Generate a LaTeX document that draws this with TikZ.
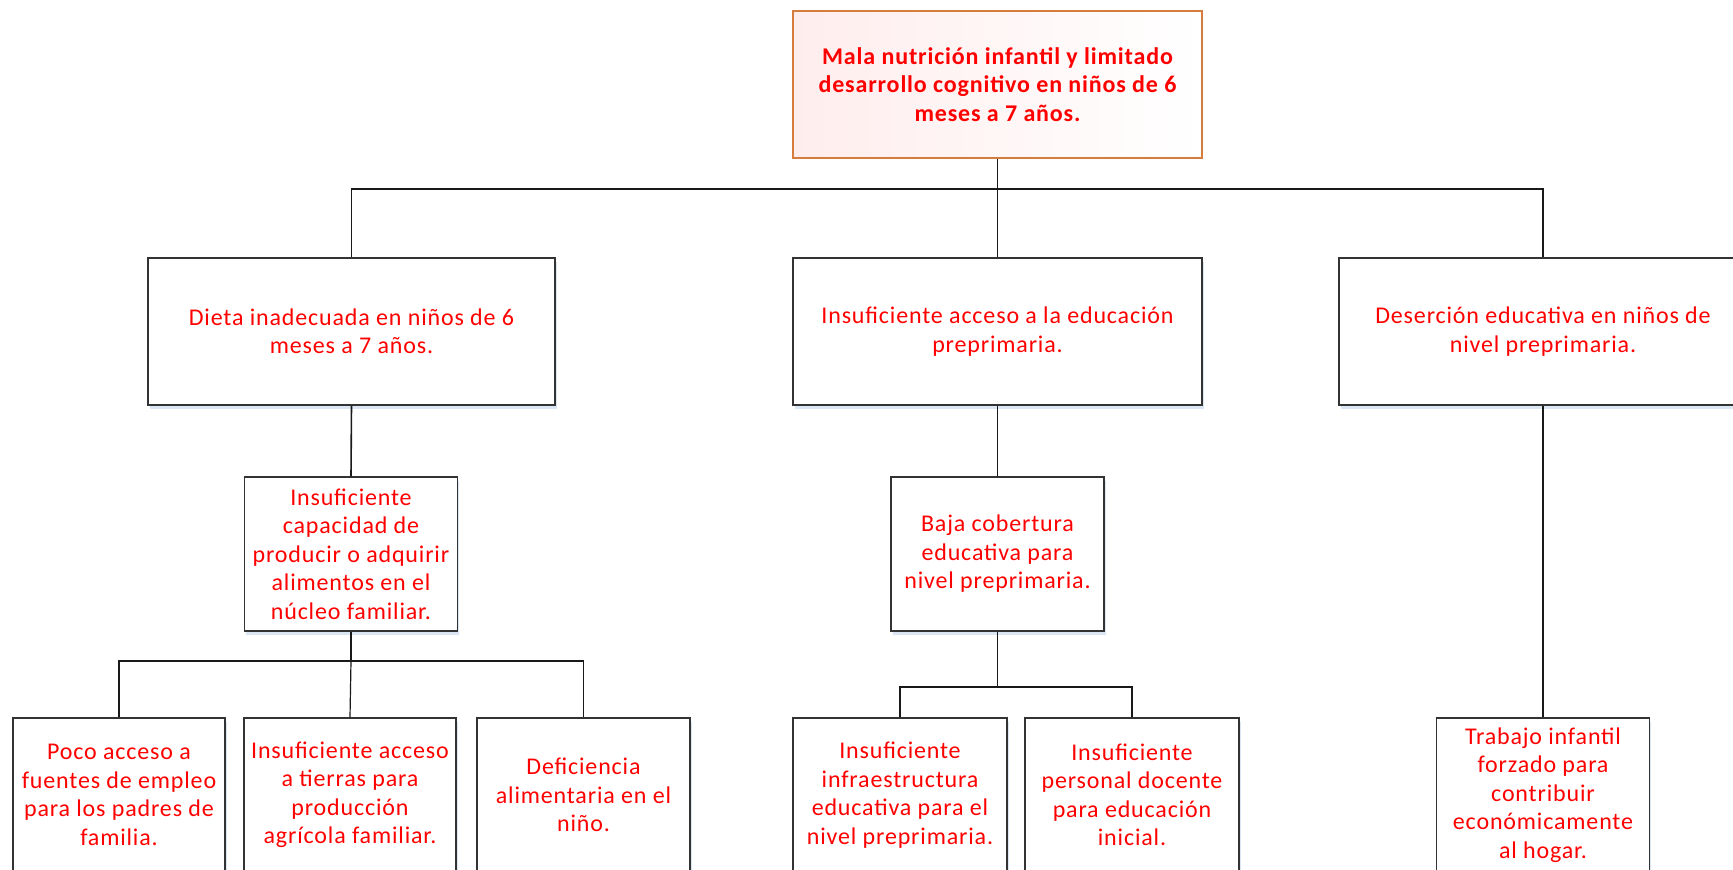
\documentclass[tikz,border=0pt]{standalone}
\usepackage{fontspec}
\setmainfont{Carlito}[LetterSpace=3.5]
\usetikzlibrary{shadows}
\definecolor{txtred}{RGB}{255,0,0}
\definecolor{toporange}{RGB}{214,124,60}
\definecolor{shadowblue}{RGB}{190,210,235}
\begin{document}
\begin{tikzpicture}[x=1pt,y=-1pt,
  box/.style={draw=black!80, line width=1.1pt, fill=white, text=txtred, align=center,
    inner sep=0pt, font=\fontsize{24}{28.5}\selectfont,
    drop shadow={shadow xshift=1.5pt, shadow yshift=-3.5pt, fill=shadowblue, opacity=0.55}},
  topbox/.style={draw=toporange, line width=1.8pt, left color=red!7!white, right color=white,
    text=txtred, align=center, inner sep=0pt, font=\fontsize{24}{28.5}\selectfont\bfseries},
  conn/.style={draw=black!90, line width=1.2pt}]
\useasboundingbox (0,0) rectangle (1733,870);
\clip (0,0) rectangle (1733,870);

% level 1
\node[topbox, minimum width=409pt, minimum height=147pt] (top) at (997.5,84.5)
  {Mala nutrición infantil y limitado\\desarrollo cognitivo en niños de 6\\meses a 7 años.};

% level 2
\node[box, minimum width=407pt, minimum height=147pt] (dieta) at (351.5,331.5)
  {Dieta inadecuada en niños de 6\\meses a 7 años.};
\node[box, minimum width=409pt, minimum height=147pt] (acceso) at (997.5,331.5)
  {Insuficiente acceso a la educación\\preprimaria.};
\node[box, minimum width=408pt, minimum height=147pt] (desercion) at (1543,331.5)
  {Deserción educativa en niños de\\nivel preprimaria.};

% level 3
\node[box, minimum width=213pt, minimum height=154pt] (capacidad) at (351,554)
  {Insuficiente\\capacidad de\\producir o adquirir\\alimentos en el\\núcleo familiar.};
\node[box, minimum width=213pt, minimum height=154pt] (cobertura) at (997.5,554)
  {Baja cobertura\\educativa para\\nivel preprimaria.};

% level 4
\node[box, minimum width=212pt, minimum height=154pt] (empleo) at (119,795)
  {Poco acceso a\\fuentes de empleo\\para los padres de\\familia.};
\node[box, minimum width=212pt, minimum height=154pt] (tierras) at (350,795)
  {Insuficiente acceso\\a tierras para\\producción\\agrícola familiar.};
\node[box, minimum width=213pt, minimum height=154pt] (deficiencia) at (583.5,795)
  {Deficiencia\\alimentaria en el\\niño.};
\node[box, minimum width=214pt, minimum height=154pt] (infra) at (900,795)
  {Insuficiente\\infraestructura\\educativa para el\\nivel preprimaria.};
\node[box, minimum width=214pt, minimum height=154pt] (docente) at (1132,795)
  {Insuficiente\\personal docente\\para educación\\inicial.};
\node[box, minimum width=213pt, minimum height=154pt] (trabajo) at (1543,795)
  {Trabajo infantil\\forzado para\\contribuir\\económicamente\\al hogar.};

% bus coordinates
\coordinate (bus1) at (997.5,189);
\coordinate (bus2) at (351,661);
\coordinate (bus3) at (997.5,687);

% connectors
\draw[conn] (top.south) -- (bus1);
\draw[conn] (bus1) -| (dieta.north);
\draw[conn] (bus1) -| (desercion.north);
\draw[conn] (bus1) -- (acceso.north);

\draw[conn, line width=1.6pt] (dieta.south) -- (capacidad.north);
\draw[conn] (acceso.south) -- (cobertura.north);
\draw[conn] (desercion.south) -- (trabajo.north);

\draw[conn] (capacidad.south) -- (bus2);
\draw[conn] (bus2) -| (empleo.north);
\draw[conn] (bus2) -| (deficiencia.north);
\draw[conn] (bus2) -- (tierras.north);

\draw[conn, line width=1.6pt] (cobertura.south) -- (bus3);
\draw[conn] (bus3) -| (infra.north);
\draw[conn] (bus3) -| (docente.north);
\end{tikzpicture}
\end{document}
